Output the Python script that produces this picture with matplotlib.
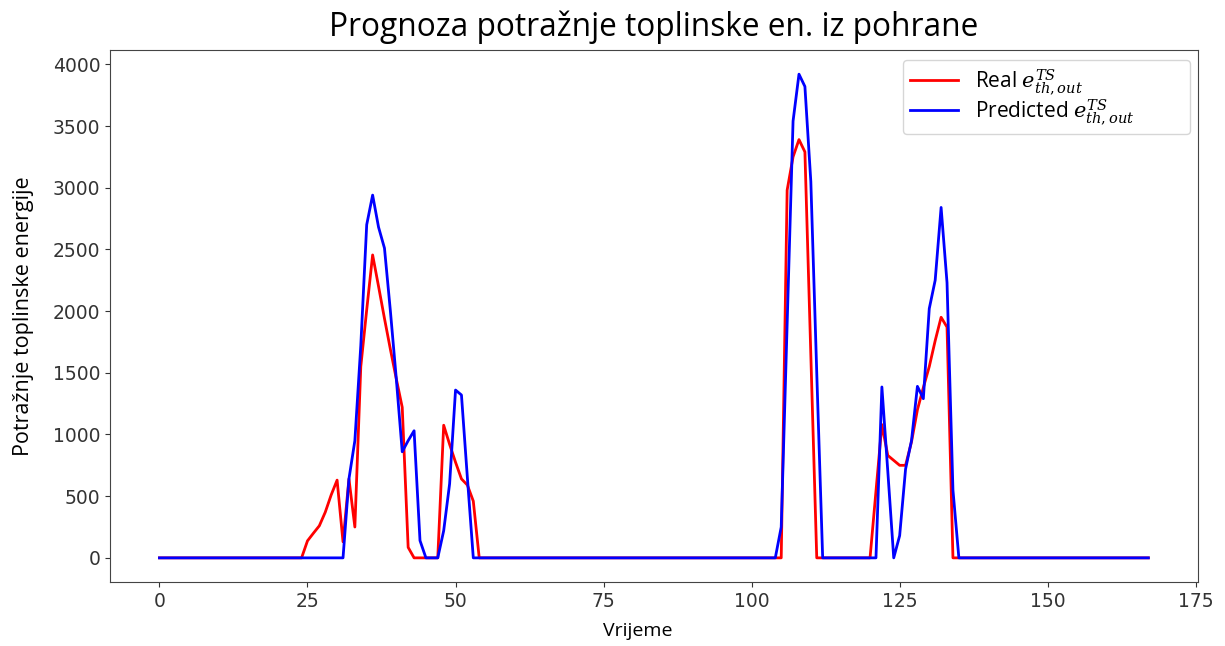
##
## === DEPENDENCIES
##

import matplotlib
matplotlib.use("Agg")
import matplotlib.pyplot as plt
import numpy

##
## === DATA
##

NUM_HOURS = 168

## (index, value) pairs of the non-zero stretches, everything else is zero
REAL_POINTS = [
    (24, 0), (25, 138), (26, 200), (27, 260), (28, 370), (29, 510), (30, 630),
    (31, 130), (32, 640), (33, 250), (34, 1550), (35, 2010), (36, 2455),
    (37, 2200), (38, 1940), (39, 1690), (40, 1450), (41, 1220), (42, 85),
    (43, 0),
    (47, 0), (48, 1075), (49, 920), (50, 775), (51, 640), (52, 590),
    (53, 460), (54, 0),
    (105, 0), (106, 2980), (107, 3250), (108, 3390), (109, 3290),
    (110, 1650), (111, 0),
    (120, 0), (121, 540), (122, 1080), (123, 830), (124, 790), (125, 750),
    (126, 750), (127, 940), (128, 1200), (129, 1380), (130, 1550),
    (131, 1760), (132, 1950), (133, 1870), (134, 0),
]

PREDICTED_POINTS = [
    (31, 0), (32, 640), (33, 950), (34, 1720), (35, 2700), (36, 2940),
    (37, 2680), (38, 2510), (39, 2000), (40, 1450), (41, 860), (42, 950),
    (43, 1030), (44, 140), (45, 0),
    (47, 0), (48, 220), (49, 600), (50, 1360), (51, 1320), (52, 650),
    (53, 0),
    (104, 0), (105, 250), (106, 1900), (107, 3540), (108, 3920),
    (109, 3820), (110, 3050), (111, 1500), (112, 0),
    (121, 0), (122, 1385), (123, 700), (124, 0), (125, 180), (126, 720),
    (127, 950), (128, 1390), (129, 1290), (130, 2020), (131, 2250),
    (132, 2840), (133, 2230), (134, 550), (135, 0),
]

TITLE = "Prognoza potražnje toplinske en. iz pohrane"
X_LABEL = "Vrijeme"
Y_LABEL = "Potražnje toplinske energije"
REAL_LABEL = r"Real $e^{TS}_{th,out}$"
PREDICTED_LABEL = r"Predicted $e^{TS}_{th,out}$"

##
## === FUNCTIONS
##


def to_series(points):
    values = numpy.zeros(NUM_HOURS)
    for index, value in points:
        values[index] = value
    return values


##
## === MAIN
##


def main() -> None:
    plt.rcParams["mathtext.fontset"] = "custom"
    plt.rcParams["mathtext.it"] = "DejaVu Serif:italic"
    plt.rcParams["mathtext.rm"] = "DejaVu Serif"
    hours = numpy.arange(NUM_HOURS)
    real = to_series(REAL_POINTS)
    predicted = to_series(PREDICTED_POINTS)

    fig = plt.figure(figsize=(12.25, 6.46), dpi=100)
    ax = fig.add_axes([0.0898, 0.099, 0.888, 0.8236])
    ax.plot(hours, real, color="red", lw=2.0, label=REAL_LABEL)
    ax.plot(hours, predicted, color="blue", lw=2.0, label=PREDICTED_LABEL)

    ax.set_xticks(numpy.arange(0, 176, 25))
    ax.set_yticks(numpy.arange(0, 4001, 500))
    ax.tick_params(labelsize=13.5, colors="#333333")
    for spine in ax.spines.values():
        spine.set_color("#444444")

    ax.set_title(TITLE, fontsize=22.8, family="Open Sans", pad=10)
    ax.set_xlabel(X_LABEL, fontsize=14, family="Open Sans")
    ax.xaxis.set_label_coords(0.485, -0.075)
    ax.set_ylabel(Y_LABEL, fontsize=15.5, family="Open Sans")
    ax.yaxis.set_label_coords(-0.07, 0.5)
    ax.legend(
        loc="upper left",
        bbox_to_anchor=(0.729, 0.0, 0.264, 0.981),
        mode="expand",
        borderaxespad=0.0,
        prop={"family": "Open Sans", "size": 15},
        handlelength=2.3,
        labelspacing=0.05,
        borderpad=0.35,
    )

    fig.savefig("out.png", dpi=100)


if __name__ == "__main__":
    main()
